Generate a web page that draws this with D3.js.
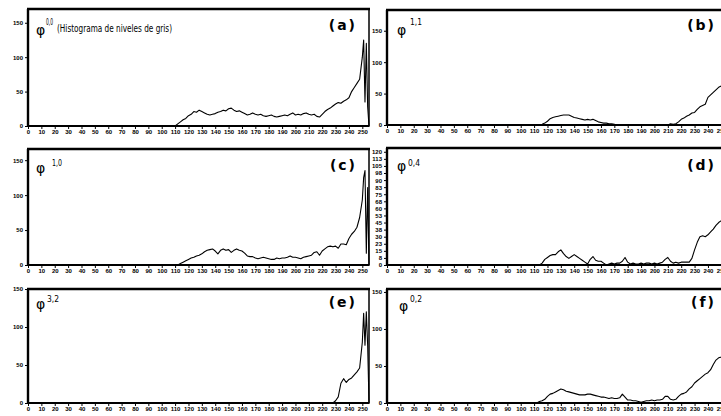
<!DOCTYPE html>
<html>
<head>
<meta charset="utf-8">
<script src="https://cdn.jsdelivr.net/npm/d3@7"></script>
<style>
  html, body { margin: 0; padding: 0; background: #fff; }
  svg { display: block; }
  .tick text { font-family: "Liberation Sans", Arial, sans-serif; font-weight: bold; font-size: 6px; fill: #000; }
  .tick line { stroke: #000; stroke-width: 1; }
</style>
</head>
<body>
<svg id="chart" width="721" height="416"></svg>
<script>
// niveles de gris muestreados (cada 2 hasta 248, luego cada 1)
const grayLevels = [100,102,104,106,108,110,112,114,116,118,
  120,122,124,126,128,130,132,134,136,138,
  140,142,144,146,148,150,152,154,156,158,
  160,162,164,166,168,170,172,174,176,178,
  180,182,184,186,188,190,192,194,196,198,
  200,202,204,206,208,210,212,214,216,218,
  220,222,224,226,228,230,232,234,236,238,
  240,242,244,246,248,250,251,252,253,254,255];

// histogramas
const histA = [0,0,0,0,0,0,3,6,9,11,
  15,17,21,20,23,21,19,17,16,17,
  18,20,21,23,22,25,26,23,21,22,
  20,18,16,17,19,17,16,17,15,14,
  15,16,14,13,14,15,16,15,17,19,
  16,17,16,18,19,17,16,17,14,13,
  17,21,24,26,29,32,34,33,36,38,
  41,50,56,62,68,100,125,35,120,28,0];
const histB = [0,0,0,0,0,0,0,0,1,3,
  6,10,12,13,14,15,16,16,16,14,
  12,11,10,9,8,9,8,9,7,5,
  4,3,3,2,2,1,0,0,0,0,
  0,0,0,0,0,0,0,0,0,0,
  0,0,0,0,0,0,2,1,2,5,
  9,11,14,16,19,20,25,29,31,33,
  44,48,52,56,60,62,64,66,68,70,72];
const histC = [0,0,0,0,0,0,0,2,4,6,
  8,10,11,13,14,16,19,21,22,23,
  20,16,21,23,21,22,18,21,23,21,
  20,17,13,12,12,10,9,10,11,10,
  9,8,8,10,9,10,10,11,13,11,
  11,10,9,11,12,13,14,18,19,14,
  20,23,26,27,26,27,24,30,30,29,
  38,44,48,54,68,93,125,135,17,111,0];
const histD = [0,0,0,0,0,0,0,0,2,6,
  8,10,11,11,14,16,12,9,7,9,
  11,9,7,5,3,1,6,9,5,4,
  4,2,0,1,2,1,2,2,4,8,
  3,1,2,1,1,2,1,2,2,1,
  2,1,2,3,6,8,4,2,3,2,
  3,3,3,3,7,16,24,30,31,30,
  32,35,38,42,45,47,49,50,52,54,55];
const histE = [0,0,0,0,0,0,0,0,0,0,
  0,0,0,0,0,0,0,0,0,0,
  0,0,0,0,0,0,0,0,0,0,
  0,0,0,0,0,0,0,0,0,0,
  0,0,0,0,0,0,0,0,0,0,
  0,0,0,0,0,0,0,0,0,0,
  0,0,0,0,0,3,8,26,32,27,
  31,33,37,41,46,80,118,76,120,76,0];
const histF = [0,0,0,0,0,0,0,2,3,5,
  9,12,13,15,17,19,18,16,15,14,
  13,12,11,11,11,12,12,11,10,9,
  8,8,7,6,7,6,6,7,12,8,
  4,4,3,3,2,1,2,3,3,4,
  3,4,4,5,9,9,5,4,5,9,
  12,13,15,19,22,27,30,33,36,39,
  41,45,52,58,61,62,64,66,68,70,72];

// etiquetas de los ejes
const xTicks = [0,10,20,30,40,50,60,70,80,90,100,110,120,130,140,150,160,170,180,190,200,210,220,230,240,250];
const yTicksStd = [0,50,100,150];
const yTicksD = [0,7.5,15,22.5,30,37.5,45,52.5,60,67.5,75,82.5,90,97.5,105,112.5,120];

const panelNames = ["(a)","(b)","(c)","(d)","(e)","(f)"];
const phiSup = ["0,0","1,1","1,0","0,4","3,2","0,2"];
const histos = [histA, histB, histC, histD, histE, histF];
const yTickSets = [yTicksStd, yTicksStd, yTicksStd, yTicksD, yTicksStd, yTicksStd];
const yMaxes = [170, 183, 166, 124, 150, 154];

// posiciones de cada panel
const layout = [
  {x0: 28,  top: 9,   bottom: 126, phi: [8, 26],  sup: [18, 16], supW: 7,  lab: 21},
  {x0: 387, top: 10,  bottom: 125, phi: [10, 25], sup: [23, 15], supW: 12, lab: 20},
  {x0: 28,  top: 149, bottom: 265, phi: [8, 24],  sup: [24, 17], supW: 10, lab: 21},
  {x0: 387, top: 148, bottom: 265, phi: [10, 23], sup: [21, 18], supW: 12, lab: 22},
  {x0: 28,  top: 289, bottom: 403, phi: [8, 20],  sup: [19, 13], supW: 12, lab: 18},
  {x0: 387, top: 289, bottom: 403, phi: [12, 22], sup: [23, 13], supW: 12, lab: 18}
];

const W = 341;
const svg = d3.select("#chart");

layout.forEach((p, k) => {
  const h = p.bottom - p.top;
  const g = svg.append("g").attr("transform", `translate(${p.x0},${p.top})`);

  const x = d3.scaleLinear().domain([0, 255]).range([0, W]);
  const y = d3.scaleLinear().domain([0, yMaxes[k]]).range([h, 0]);

  // eje x
  const gx = g.append("g")
      .attr("transform", `translate(0,${h})`)
      .call(d3.axisBottom(x).tickValues(xTicks).tickSize(3).tickPadding(1).tickFormat(d3.format("d")));
  gx.select(".domain").remove();

  // eje y
  const gy = g.append("g")
      .call(d3.axisLeft(y).tickValues(yTickSets[k]).tickSize(3).tickPadding(2).tickFormat(d3.format(".0f")));
  gy.select(".domain").remove();

  // curva del histograma
  const line = d3.line()
      .x((d, i) => x(grayLevels[i]))
      .y(d => y(d));
  g.append("path")
      .datum(histos[k])
      .attr("fill", "none")
      .attr("stroke", "#000")
      .attr("stroke-width", 1.1)
      .attr("stroke-linejoin", "round")
      .attr("d", line);

  // marco
  g.append("rect")
      .attr("width", W).attr("height", h)
      .attr("fill", "none").attr("stroke", "#000").attr("stroke-width", 1.5);
  g.append("line").attr("x1", -1).attr("x2", W + 1).attr("y1", 0).attr("y2", 0)
      .attr("stroke", "#000").attr("stroke-width", 2.6);
  g.append("line").attr("x1", 0).attr("x2", 0).attr("y1", 0).attr("y2", h)
      .attr("stroke", "#000").attr("stroke-width", 2.4);
  g.append("line").attr("x1", 0).attr("x2", W).attr("y1", h).attr("y2", h)
      .attr("stroke", "#000").attr("stroke-width", 2);

  // φ con superíndice
  g.append("text")
      .attr("x", p.phi[0]).attr("y", p.phi[1])
      .attr("font-family", "DejaVu Sans, sans-serif")
      .attr("font-size", 14)
      .attr("fill", "#000")
      .text("φ");
  g.append("text")
      .attr("x", p.sup[0]).attr("y", p.sup[1])
      .attr("font-family", "DejaVu Sans, sans-serif")
      .attr("font-size", 8)
      .attr("fill", "#000")
      .attr("textLength", p.supW)
      .attr("lengthAdjust", "spacingAndGlyphs")
      .text(phiSup[k]);

  // letra del panel
  g.append("text")
      .attr("x", 329).attr("y", p.lab)
      .attr("text-anchor", "end")
      .attr("font-family", "DejaVu Sans, sans-serif")
      .attr("font-weight", "bold")
      .attr("font-size", 14)
      .attr("letter-spacing", 2)
      .text(panelNames[k]);

  if (k === 0) {
    g.append("text")
        .attr("x", 29).attr("y", 23)
        .attr("font-family", "DejaVu Sans, sans-serif")
        .attr("font-size", 11)
        .attr("fill", "#000")
        .attr("textLength", 115)
        .attr("lengthAdjust", "spacingAndGlyphs")
        .text("(Histograma de niveles de gris)");
  }
});
</script>
</body>
</html>
